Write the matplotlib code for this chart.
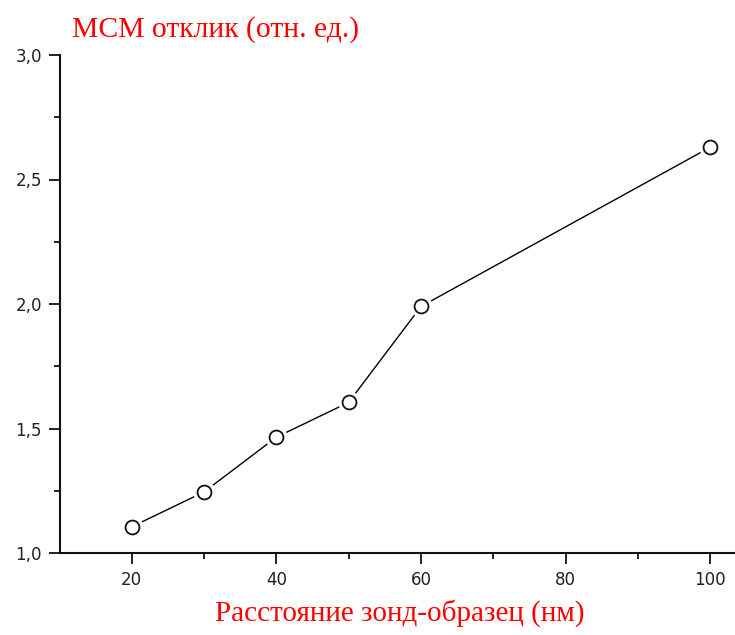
import numpy as np
import matplotlib
matplotlib.use('Agg')
from matplotlib import pyplot as plt
from matplotlib.ticker import MultipleLocator, FuncFormatter

# probe-sample distance (nm) and MFM response (rel. units)
distance = [20, 30, 40, 50, 60, 100]
response = [1.105, 1.245, 1.465, 1.605, 1.99, 2.63]

x_label = 'Расстояние зонд-образец (нм)'
y_label = 'МСМ отклик (отн. ед.)'

fig = plt.figure(figsize=(7.35, 6.35), dpi=100)
ax = fig.add_axes([60/735, 82/635, 675/735, 498/635])

# line, white halo so the line stops short of each point, then open circles
ax.plot(distance, response, color='black', lw=1.0, zorder=2)
ax.plot(distance, response, ls='none', marker='o', ms=16, mfc='white',
        mec='white', mew=0, zorder=3)
ax.plot(distance, response, ls='none', marker='o', ms=10, mfc='white',
        mec='#111111', mew=1.3, zorder=4)

ax.set_xlim(10.1, 103.4)
ax.set_ylim(1.0, 3.0)

for side in ['top', 'right']:
    ax.spines[side].set_visible(False)
for side in ['left', 'bottom']:
    ax.spines[side].set_linewidth(1.5)
    ax.spines[side].set_color('#111111')

ax.xaxis.set_major_locator(MultipleLocator(20))
ax.xaxis.set_minor_locator(MultipleLocator(10))
ax.yaxis.set_major_locator(MultipleLocator(0.5))
ax.yaxis.set_minor_locator(MultipleLocator(0.25))
ax.yaxis.set_major_formatter(FuncFormatter(lambda v, p: f'{v:.1f}'.replace('.', ',')))

ax.tick_params(which='major', length=8, width=1.3, color='#111111',
               labelsize=12, labelcolor='#222222', pad=5)
ax.tick_params(which='minor', length=4.5, width=1.3, color='#111111')

fig.text(72/735, 1 - 30/635, y_label, color='red', fontsize=21.3,
         family='Liberation Serif', ha='left', va='center')
fig.text(400/735, 1 - 613/635, x_label, color='red', fontsize=21,
         family='Liberation Serif', ha='center', va='center')

fig.savefig('out.png', dpi=100)
